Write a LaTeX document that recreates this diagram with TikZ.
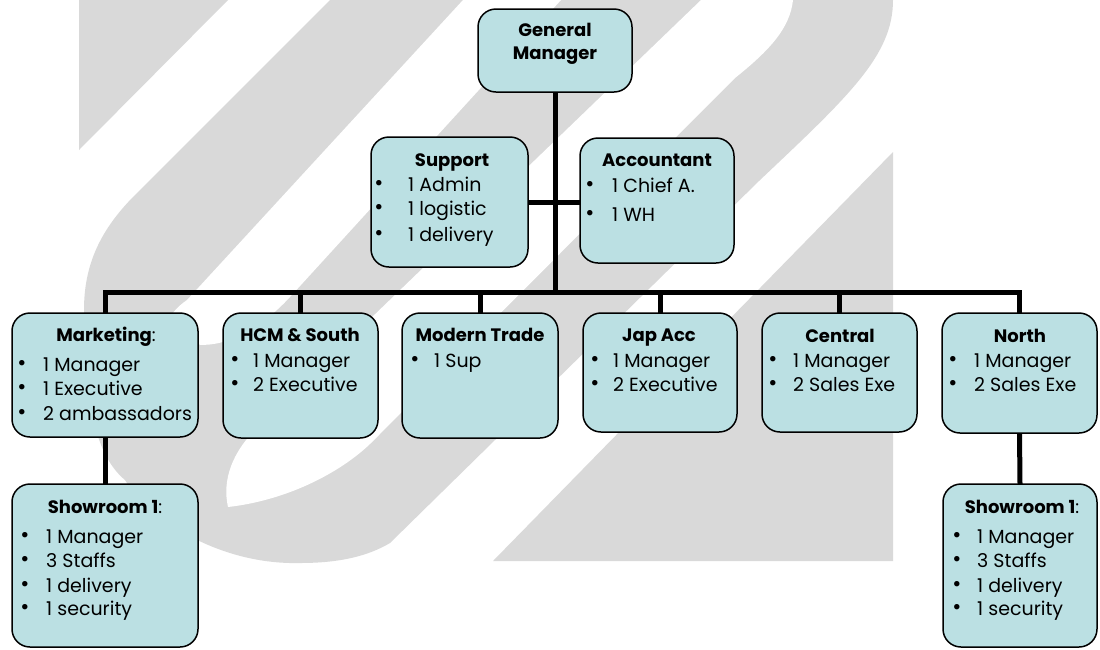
\documentclass[tikz,border=0pt]{standalone}
\usepackage{fontspec}
\setmainfont{Poppins}
\definecolor{boxfill}{RGB}{187,224,227}
\definecolor{bggray}{RGB}{217,217,217}
\pgfdeclarelayer{back}
\pgfdeclarelayer{wires}
\pgfsetlayers{back,wires,main}
\newcommand\bodyfont{\fontsize{19}{23}\selectfont}
\newcommand\headfont{\fontsize{18}{22}\selectfont\bfseries}
\newcommand\itm[5]{%
  \node[bul] (#1b) at (#2,#4) {\raisebox{0.5pt}{\fontsize{22}{22}\selectfont\textbullet}};
  \node[txt] (#1) at (#3,#4) {#5};}
\tikzset{
  box/.style={draw=black, line width=1.5pt, rounded corners=18pt, fill=boxfill, inner sep=0pt, outer sep=0pt},
  conn/.style={line width=5pt, draw=black, line join=miter},
  hd/.style={anchor=base, inner sep=0pt, font=\headfont},
  txt/.style={anchor=base west, inner sep=0pt, font=\bodyfont},
  bul/.style={anchor=base, inner sep=0pt, font=\bodyfont},
}
\begin{document}
\begin{tikzpicture}[x=1pt,y=-1pt]
\useasboundingbox (0,0) rectangle (1100,649);
\begin{pgfonlayer}{back}
\fill[white] (0,0) rectangle (1100,649);
% background watermark
\fill[bggray] (79,0) -- (228,0) -- (79,150) -- cycle;
\fill[bggray] (330,0) -- (135,195) .. controls (100,230) and (84,265) .. (84,310)
  .. controls (84,400) and (95,455) .. (125,480)
  .. controls (150,520) and (220,565) .. (300,563)
  .. controls (340,563) and (368,556) .. (390,543)
  -- (760,180) .. controls (850,95) and (893,55) .. (893,0) -- cycle;
\fill[white] (463,0) -- (561,0) -- (290,297) .. controls (255,335) and (215,352) .. (185,342)
  .. controls (160,334) and (165,315) .. (187,300) -- cycle;
\fill[white] (701,0) -- (793,0) .. controls (790,28) and (770,50) .. (735,78)
  -- (374,440) .. controls (345,470) and (290,500) .. (228,507)
  .. controls (222,480) and (232,452) .. (258,427) -- cycle;
\fill[bggray] (893,152) -- (893,561) -- (493,561) -- cycle;
\end{pgfonlayer}

% boxes
\node[box, minimum width=154pt, minimum height=83pt]  (gm)  at (555,50.5) {};
\node[box, minimum width=157pt, minimum height=130pt] (sup) at (449.5,202) {};
\node[box, minimum width=154pt, minimum height=125pt] (acc) at (657,200.5) {};
\node[box, minimum width=186pt, minimum height=124pt] (mkt) at (105,375) {};
\node[box, minimum width=155pt, minimum height=125pt] (hcm) at (300.5,375.5) {};
\node[box, minimum width=156pt, minimum height=125pt] (mt)  at (480,375.5) {};
\node[box, minimum width=154pt, minimum height=119pt] (jap) at (660,372.5) {};
\node[box, minimum width=155pt, minimum height=119pt] (cen) at (839.5,372.5) {};
\node[box, minimum width=155pt, minimum height=120pt] (nor) at (1019.5,373) {};
\node[box, minimum width=186pt, minimum height=163pt] (shl) at (105,565.5) {};
\node[box, minimum width=154pt, minimum height=163pt] (shr) at (1020,565.5) {};

% connectors (drawn beneath boxes)
\coordinate (bus) at (555,292);
\begin{pgfonlayer}{wires}
\draw[conn] (gm.south) -- (bus);
\draw[conn] (sup.east) -- (sup.east -| acc.west);
\draw[conn] (mkt.north) -- (mkt.north |- bus) -- (nor.north |- bus) -- (nor.north);
\draw[conn] (hcm.north) -- (hcm.north |- bus);
\draw[conn] (mt.north) -- (mt.north |- bus);
\draw[conn] (jap.north) -- (jap.north |- bus);
\draw[conn] (cen.north) -- (cen.north |- bus);
\draw[conn] (mkt.south) -- (shl.north);
\draw[conn] (nor.south) -- (shr.north);
\end{pgfonlayer}

% texts
\node[hd] (gmh1) at (555,36) {General};
\node[hd] (gmh2) at (555,59) {Manager};

\node[hd] (suph) at (452,166) {Support};
\itm{sup1}{379}{408}{191}{1 Admin}
\itm{sup2}{379}{408}{215}{1 logistic}
\itm{sup3}{379}{408}{241}{1 delivery}

\node[hd] (acch) at (657,166) {Accountant};
\itm{acc1}{590}{612}{192}{1 Chief A.}
\itm{acc2}{590}{612}{221}{1 WH}

\node[hd] (mkth) at (106,341) {Marketing{\mdseries:}};
\itm{mkt1}{22}{43}{371}{1 Manager}
\itm{mkt2}{22}{43}{395}{1 Executive}
\itm{mkt3}{22}{43}{420}{2 ambassadors}

\node[hd] (hcmh) at (300,341) {HCM \& South};
\itm{hcm1}{235}{253}{367}{1 Manager}
\itm{hcm2}{235}{253}{391}{2 Executive}

\node[hd] (mth) at (480,341) {Modern Trade};
\itm{mt1}{415}{434}{367}{1 Sup}

\node[hd] (japh) at (659,341) {Jap Acc};
\itm{jap1}{595}{613}{367}{1 Manager}
\itm{jap2}{595}{613}{391}{2 Executive}

\node[hd] (cenh) at (840,342) {Central};
\itm{cen1}{773}{793}{367}{1 Manager}
\itm{cen2}{773}{793}{391}{2 Sales Exe}

\node[hd] (norh) at (1020,342) {North};
\itm{nor1}{953}{974}{367}{1 Manager}
\itm{nor2}{953}{974}{391}{2 Sales Exe}

\node[hd] (shlh) at (105,513) {Showroom 1{\mdseries:}};
\itm{shl1}{25}{46}{543}{1 Manager}
\itm{shl2}{25}{46}{567}{3 Staffs}
\itm{shl3}{25}{46}{592}{1 delivery}
\itm{shl4}{25}{46}{615}{1 security}

\node[hd] (shrh) at (1022,513) {Showroom 1{\mdseries:}};
\itm{shr1}{957}{977}{543}{1 Manager}
\itm{shr2}{957}{977}{567}{3 Staffs}
\itm{shr3}{957}{977}{592}{1 delivery}
\itm{shr4}{957}{977}{615}{1 security}
\end{tikzpicture}
\end{document}
